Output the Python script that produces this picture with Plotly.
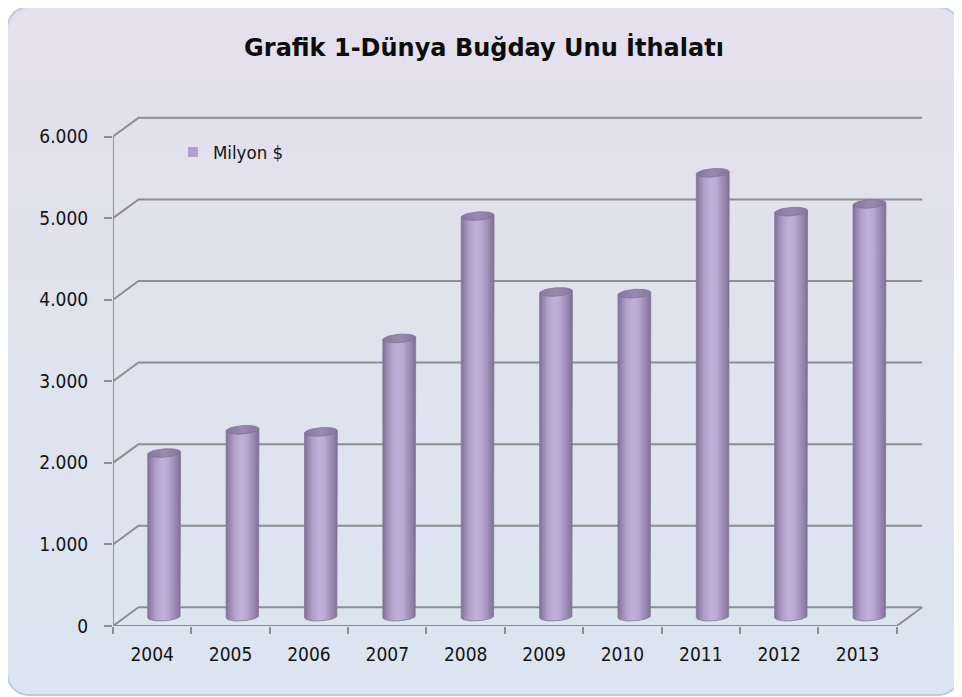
import numpy as np
import plotly.graph_objects as go

# ---------------- data ----------------
years = ["2004", "2005", "2006", "2007", "2008", "2009", "2010", "2011", "2012", "2013"]
values = [2005, 2290, 2265, 3410, 4910, 3980, 3960, 5440, 4965, 5060]
y_ticks = [0, 1000, 2000, 3000, 4000, 5000, 6000]
y_tick_labels = ["0", "1.000", "2.000", "3.000", "4.000", "5.000", "6.000"]
title_text = "Grafik 1-Dünya Buğday Unu İthalatı"
series_name = "Milyon $"

# ---------------- geometry / style ----------------
OFF = 8                       # page body margin of the browser
FIG_W, FIG_H = 962 - OFF, 697 - OFF
L, R, T, B = 113 - OFF, 37, 112 - OFF, 71
W = FIG_W - L - R
H = FIG_H - T - B
PX_X = 78.37          # px per category
PX_Y = 0.08158        # px per value unit
XMIN = -0.5
XMAX = XMIN + W / PX_X
YMAX = H / PX_Y
DX = 25.5 / PX_X      # depth offset (x, data units)
DY = 18.7 / PX_Y      # depth offset (y, data units)
n = len(years)

GRID = "#8e8e8e"
TXT = "#141414"
FONT = "DejaVu Sans Condensed, DejaVu Sans, sans-serif"

fig = go.Figure()

# ---- frame: back grid lines, left diagonals, floor, front axes ----
fx, fy = [], []
for v in y_ticks:
    fx += [XMIN, XMIN + DX, n - 0.5 + DX, None]
    fy += [v, v + DY, v + DY, None]
fx += [n - 0.5, n - 0.5 + DX, None]
fy += [0, DY, None]
fx += [XMIN, n - 0.5, None]
fy += [0, 0, None]
fx += [XMIN, XMIN, None]
fy += [0, y_ticks[-1], None]
fig.add_trace(go.Scatter(x=fx, y=fy, mode="lines", line=dict(color=GRID, width=2),
                         hoverinfo="skip", showlegend=False))

# ---- cylinders ----
half_w = 16.4 / PX_X
ry = 4.2 / PX_Y
tilt = 0.07 * PX_X / PX_Y   # slight perspective tilt of ellipses
base = DY / 2
body_scale = [
    [0.0, "#7d6e92"], [0.08, "#9182a8"], [0.25, "#b1a1ca"], [0.45, "#c0b1da"],
    [0.62, "#b8a8d2"], [0.8, "#9f8fb7"], [0.93, "#8c7ca2"], [1.0, "#786a8c"],
]
top_scale = [[0.0, "#85769b"], [0.5, "#9a8ab0"], [1.0, "#85769b"]]

for i, v in enumerate(values):
    xc = i + DX / 2 - 0.01
    top = base + v
    t = np.linspace(0, np.pi, 40)
    arc_x = xc + half_w * np.cos(t)              # right -> left
    arc_y = base - ry * np.sin(t) + tilt * (arc_x - xc)
    bx = [xc - half_w, xc - half_w, xc + half_w] + list(arc_x) + [xc - half_w]
    by = [base - tilt * half_w, top - tilt * half_w, top + tilt * half_w] + list(arc_y) + [base - tilt * half_w]
    fig.add_trace(go.Scatter(
        x=bx, y=by, mode="lines", fill="toself",
        line=dict(color="#86779b", width=0.8),
        fillgradient=dict(type="horizontal", colorscale=body_scale),
        hovertemplate=f"{years[i]}: {v}<extra></extra>", showlegend=False))
    tt = np.linspace(0, 2 * np.pi, 60)
    ex = xc + half_w * np.cos(tt)
    ey = top + ry * np.sin(tt) + tilt * (ex - xc)
    fig.add_trace(go.Scatter(
        x=ex, y=ey, mode="lines", fill="toself",
        line=dict(color="#83749a", width=0.8),
        fillgradient=dict(type="horizontal", colorscale=top_scale),
        hoverinfo="skip", showlegend=False))

# legend entry
fig.add_trace(go.Scatter(x=[None], y=[None], mode="markers", name=series_name,
                         marker=dict(symbol="square", size=10, color="#b2a1cc")))

# ---- background (rounded rectangle with vertical gradient) ----
def px2paper(px, py):
    # px, py in reference-image pixels
    return (px - OFF - L) / W, (FIG_H - B - (py - OFF)) / H

X0, Y0, X1, Y1, RAD = 7, 7, 960, 695, 22
top_c = np.array([229, 224, 237])
bot_c = np.array([219, 229, 241])

def edge_left(y):
    if y < Y0 + RAD:
        d = Y0 + RAD - y
        return X0 + RAD - np.sqrt(max(RAD**2 - d**2, 0))
    if y > Y1 - RAD:
        d = y - (Y1 - RAD)
        return X0 + RAD - np.sqrt(max(RAD**2 - d**2, 0))
    return X0

shapes = []
NB = 48
edges = np.linspace(Y0, Y1, NB + 1)
for k in range(NB):
    ya, yb = edges[k], min(edges[k + 1] + 0.8, Y1)
    ys = np.linspace(ya, yb, 6)
    pts = [(edge_left(y), y) for y in ys] + [(X0 + X1 - edge_left(y), y) for y in ys[::-1]]
    path = ""
    for j, (px, py) in enumerate(pts):
        xp, yp = px2paper(px, py)
        path += ("M" if j == 0 else "L") + f"{xp:.5f},{yp:.5f} "
    path += "Z"
    c = top_c + (bot_c - top_c) * ((ya + yb) / 2 - Y0) / (Y1 - Y0)
    shapes.append(dict(type="path", xref="paper", yref="paper", path=path,
                       fillcolor=f"rgb({int(c[0])},{int(c[1])},{int(c[2])})",
                       line=dict(width=0), layer="below"))
bpts = []
for a in np.linspace(np.pi, 1.5 * np.pi, 12):
    bpts.append((X0 + RAD + RAD * np.cos(a), Y0 + RAD + RAD * np.sin(a)))
for a in np.linspace(1.5 * np.pi, 2 * np.pi, 12):
    bpts.append((X1 - RAD + RAD * np.cos(a), Y0 + RAD + RAD * np.sin(a)))
for a in np.linspace(0, 0.5 * np.pi, 12):
    bpts.append((X1 - RAD + RAD * np.cos(a), Y1 - RAD + RAD * np.sin(a)))
for a in np.linspace(0.5 * np.pi, np.pi, 12):
    bpts.append((X0 + RAD + RAD * np.cos(a), Y1 - RAD + RAD * np.sin(a)))
path = ""
for j, (px, py) in enumerate(bpts):
    xp, yp = px2paper(px, py)
    path += ("M" if j == 0 else "L") + f"{xp:.5f},{yp:.5f} "
path += "Z"
shapes.append(dict(type="path", xref="paper", yref="paper", path=path,
                   line=dict(color="#b7cce7", width=2), layer="below"))

lx, ly = px2paper(173, 152.5)
fig.update_layout(
    width=FIG_W, height=FIG_H,
    margin=dict(l=L, r=R, t=T, b=B),
    paper_bgcolor="white", plot_bgcolor="rgba(0,0,0,0)",
    shapes=shapes,
    title=dict(text=f"<b>{title_text}</b>", x=(484 - OFF) / FIG_W, xref="container", xanchor="center",
               y=1 - (48 - OFF) / FIG_H, yref="container", yanchor="middle",
               font=dict(family="DejaVu Sans, sans-serif", size=24, color="#0d0d0d")),
    showlegend=True,
    legend=dict(x=lx, y=ly, xanchor="left", yanchor="middle", bgcolor="rgba(0,0,0,0)",
                font=dict(family=FONT, size=18.5, color=TXT), itemwidth=30),
    xaxis=dict(range=[XMIN, XMAX], tickmode="array", tickvals=list(range(n)), ticktext=years,
               ticks="", showgrid=False, zeroline=False, showline=False,
               tickfont=dict(family=FONT, size=19, color=TXT), ticklabelstandoff=15,
               minor=dict(tickmode="array", tickvals=[k - 0.5 for k in range(n + 1)],
                          ticks="outside", ticklen=7, tickwidth=2, tickcolor=GRID),
               fixedrange=True),
    yaxis=dict(range=[0, YMAX], tickmode="array", tickvals=y_ticks, ticktext=y_tick_labels,
               ticks="outside", ticklen=8, tickwidth=2, tickcolor=GRID,
               showgrid=False, zeroline=False, showline=False,
               tickfont=dict(family=FONT, size=19, color=TXT), ticklabelstandoff=12,
               fixedrange=True),
)

fig.write_html("out.html")
